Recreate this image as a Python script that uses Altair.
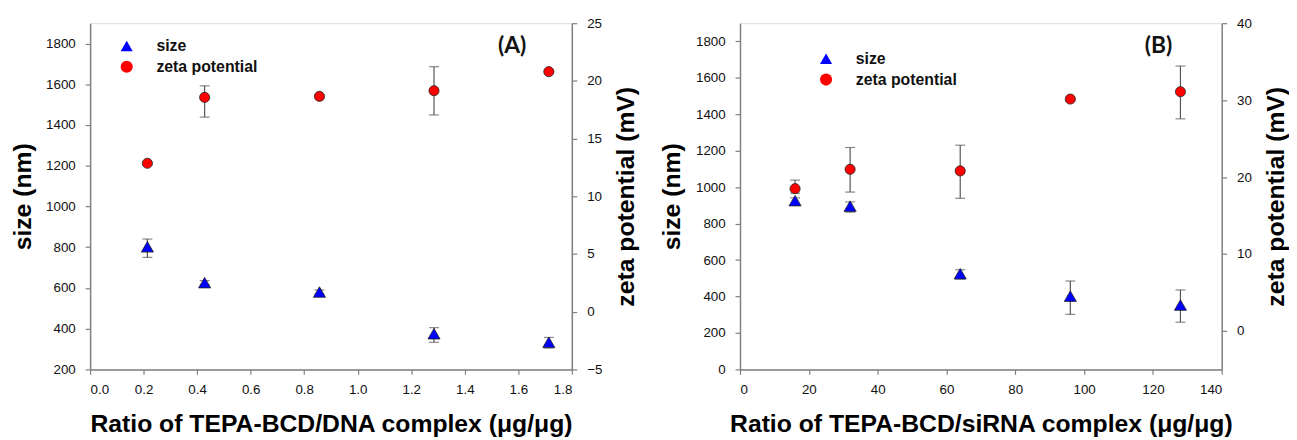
import altair as alt
import pandas as pd

# ---------------- data ----------------
A_x = [0.214, 0.428, 0.857, 1.285, 1.714]
A_size = [802, 626, 580, 375, 333]
A_size_lo = [750, 616, 570, 333, 305]
A_size_hi = [840, 636, 590, 405, 357]
A_zeta = [12.86, 18.57, 18.66, 19.15, 20.8]
A_zeta_lo = [12.7, 16.86, 18.5, 17.05, 20.65]
A_zeta_hi = [13.0, 19.57, 18.8, 21.23, 20.95]

B_x = [16, 32, 64, 96, 128]
B_size = [926, 896, 525, 402, 353]
B_size_lo = [910, 863, 496, 302, 259]
B_size_hi = [941, 919, 547, 485, 436]
B_zeta = [18.49, 21.01, 20.8, 30.14, 31.09]
B_zeta_lo = [17.9, 18.05, 17.24, 29.9, 27.57]
B_zeta_hi = [19.6, 23.84, 24.14, 30.4, 34.43]

SERIES = ["size", "zeta potential"]
COLORS = ["#0000ff", "#ff0000"]
SHAPES = ["triangle-up", "circle"]

FONT = "Liberation Sans"
AXIS_GRAY = "#7f7f7f"
ERR_GRAY = "#555555"


def axis_common(**kw):
    base = dict(
        grid=False,
        domainColor=AXIS_GRAY,
        domainWidth=1.5,
        tickColor=AXIS_GRAY,
        tickWidth=1.2,
        tickSize=5,
        labelPadding=10,
        labelFont=FONT,
        labelFontSize=13.5,
        labelColor="#111111",
        titleFont=FONT,
        titleFontWeight="bold",
        titleColor="#000000",
    )
    base.update(kw)
    return alt.Axis(**base)


def panel(x_vals, xdom, xticks, xfmt, xtitle,
          size, size_lo, size_hi, ydom_l, yticks_l,
          zeta, zeta_lo, zeta_hi, ydom_r, yticks_r,
          leg_x, leg_y, label, label_dx, l_tpad, r_tpad):
    df_s = pd.DataFrame({"x": x_vals, "v": size, "lo": size_lo, "hi": size_hi,
                         "series": SERIES[0]})
    df_z = pd.DataFrame({"x": x_vals, "v": zeta, "lo": zeta_lo, "hi": zeta_hi,
                         "series": SERIES[1]})

    X = alt.X("x:Q", scale=alt.Scale(domain=xdom, nice=False, zero=False),
              axis=axis_common(values=xticks, format=xfmt, title=xtitle,
                               titleFontSize=25, titlePadding=16,
                               labelPadding=8))

    legend = alt.Legend(
        title=None, orient="none", legendX=leg_x, legendY=leg_y, padding=0,
        labelFont=FONT, labelFontSize=16, labelFontWeight="bold",
        labelColor="#111111", labelOffset=22, rowPadding=5,
        symbolSize=150, symbolStrokeColor="#222222", symbolStrokeWidth=0.8,
        symbolOpacity=1,
    )
    color = alt.Color("series:N", scale=alt.Scale(domain=SERIES, range=COLORS),
                      legend=legend)
    shape = alt.Shape("series:N", scale=alt.Scale(domain=SERIES, range=SHAPES),
                      legend=legend)

    def group(df, ydom, yticks, title, orient, tpad, msize, extra):
        yscale = alt.Scale(domain=ydom, nice=False, zero=False)
        yaxis = axis_common(values=yticks, format="d", title=title,
                            orient=orient, titleFontSize=25, titlePadding=tpad,
                            **extra)
        base = alt.Chart(df)
        rule = base.mark_rule(color=ERR_GRAY, strokeWidth=1.2).encode(
            x=X, y=alt.Y("lo:Q", scale=yscale, axis=yaxis), y2="hi:Q")
        caps = base.transform_fold(["lo", "hi"], as_=["end", "val"]).mark_tick(
            orient="horizontal", size=10, thickness=1.2, color=ERR_GRAY
        ).encode(x=X, y=alt.Y("val:Q", scale=yscale, axis=yaxis))
        pts = base.mark_point(filled=True, size=msize, opacity=1,
                              stroke="#222222", strokeWidth=0.8).encode(
            x=X, y=alt.Y("v:Q", scale=yscale, axis=yaxis),
            color=color, shape=shape)
        return alt.layer(rule, caps, pts)

    g_size = group(df_s, ydom_l, yticks_l, "size (nm)", "left", l_tpad, 150, {})
    g_zeta = group(df_z, ydom_r, yticks_r, "zeta potential (mV)", "right",
                   r_tpad, 105, dict(titleAngle=270, titleBaseline="top"))

    return alt.layer(g_size, g_zeta).resolve_scale(y="independent").properties(
        width=487, height=350,
        title=alt.TitleParams(label, anchor="end", orient="top", frame="group",
                              font="Lato", fontSize=23, fontWeight="bold",
                              color="#111111", dx=label_dx, dy=42, offset=0),
    )


pA = panel(A_x, [0, 1.8], [0, 0.2, 0.4, 0.6, 0.8, 1.0, 1.2, 1.4, 1.6, 1.8], ".1f",
           "Ratio of TEPA-BCD/DNA complex (μg/μg)",
           A_size, A_size_lo, A_size_hi, [200, 1900],
           [200, 400, 600, 800, 1000, 1200, 1400, 1600, 1800],
           A_zeta, A_zeta_lo, A_zeta_hi, [-5, 25], [-5, 0, 5, 10, 15, 20, 25],
           29, 15, "(A)", -46, 10, 12)

pB = panel(B_x, [0, 140], [0, 20, 40, 60, 80, 100, 120, 140], "d",
           "Ratio of TEPA-BCD/siRNA complex (μg/μg)",
           B_size, B_size_lo, B_size_hi, [0, 1900],
           [0, 200, 400, 600, 800, 1000, 1200, 1400, 1600, 1800],
           B_zeta, B_zeta_lo, B_zeta_hi, [-5, 40], [0, 10, 20, 30, 40],
           79, 28, "(B)", -50, 11, 12)

chart = alt.hconcat(pA, pB, spacing=20).resolve_scale(
    color="independent", shape="independent"
).resolve_legend(color="independent", shape="independent").properties(
    padding={"left": 2, "top": 5, "right": 0, "bottom": 0}
).configure_view(stroke=AXIS_GRAY, strokeWidth=1.2).configure(background="white")

chart.save("out.html", embed_options={"renderer": "svg", "actions": False})
